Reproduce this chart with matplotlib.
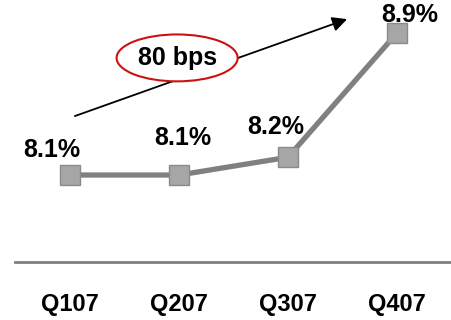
import matplotlib
matplotlib.use("Agg")
import matplotlib.pyplot as plt
from matplotlib.patches import Ellipse

# ── Data ────────────────────────────────────────────────────────────────
quarters = ["Q107", "Q207", "Q307", "Q407"]
margin = [8.1, 8.1, 8.2, 8.9]
labels = ["8.1%", "8.1%", "8.2%", "8.9%"]
# label offsets (points) relative to each marker
label_dx = [-13, 3, -9, 9]
label_dy = [18, 27, 22, 13]
change_text = "80 bps"

plt.rcParams["font.family"] = ["Liberation Sans", "DejaVu Sans"]
plt.rcParams["font.weight"] = "bold"

fig = plt.figure(figsize=(4.52, 3.2), dpi=100)
fig.patch.set_facecolor("white")
ax = fig.add_axes([0.0332, 0.18125, 0.9668, 0.81875])

x = range(len(quarters))
ax.plot(x, margin, color="#808080", lw=3.8, marker="s", markersize=14,
        markerfacecolor="#a6a6a6", markeredgecolor="#8a8a8a", markeredgewidth=1.0,
        zorder=3)

for i, (v, s) in enumerate(zip(margin, labels)):
    ax.annotate(s, (i, v), xytext=(label_dx[i], label_dy[i]), textcoords="offset points",
                ha="center", va="center", fontsize=18, fontweight="bold")

ax.set_xlim(-0.505, 3.505)
ax.set_ylim(7.61, 9.086)

# growth arrow with the bps callout
ax.annotate("", xy=(0.760, 0.927), xytext=(0.137, 0.557), xycoords="axes fraction",
            arrowprops=dict(arrowstyle="-|>", color="black", lw=1.3,
                            mutation_scale=22, shrinkA=0, shrinkB=0), zorder=4)
ell = Ellipse((0.371, 0.779), 0.277, 0.179, transform=ax.transAxes,
              facecolor="white", edgecolor="#cc1111", lw=1.5, zorder=5)
ax.add_patch(ell)
ax.text(0.371, 0.779, change_text, transform=ax.transAxes, ha="center", va="center",
        fontsize=18, fontweight="bold", zorder=6)

ax.set_xticks(list(x))
ax.set_xticklabels(quarters, fontsize=17, fontweight="bold")
ax.tick_params(axis="x", length=0, pad=22)
ax.set_yticks([])
for side in ["top", "left", "right"]:
    ax.spines[side].set_visible(False)
ax.spines["bottom"].set_color("#808080")
ax.spines["bottom"].set_linewidth(2.0)
ax.set_facecolor("none")

fig.savefig("out.png", dpi=100, facecolor="white")
